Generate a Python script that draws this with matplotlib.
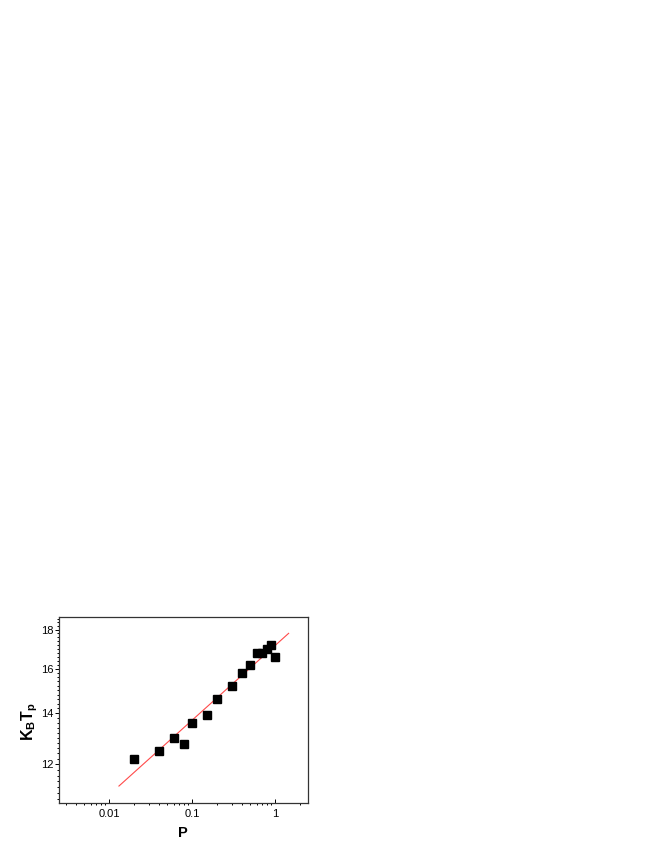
import numpy as np
import matplotlib.pyplot as plt
from matplotlib.ticker import FixedLocator, FixedFormatter, LogLocator, NullFormatter

plt.rcParams['font.family'] = ['Liberation Sans', 'DejaVu Sans']
plt.rcParams['mathtext.fontset'] = 'custom'
plt.rcParams['mathtext.rm'] = 'Liberation Sans'
plt.rcParams['mathtext.bf'] = 'Liberation Sans:bold'

# measured points
p_vals = [0.02, 0.04, 0.06, 0.08, 0.1, 0.15, 0.2, 0.3, 0.4, 0.5, 0.6, 0.7, 0.8, 0.9, 1.0]
kbtp = [12.2, 12.5, 13.0, 12.75, 13.6, 13.9, 14.6, 15.2, 15.8, 16.2, 16.8, 16.8, 17.0, 17.2, 16.6]

# fitted line end points
fit_p = [0.0131, 1.46]
fit_y = [11.24, 17.8]

x_ticks = [0.01, 0.1, 1]
x_ticklabels = ['0.01', '0.1', '1']
y_ticks = [12, 14, 16, 18]
y_minor = np.arange(10.8, 18.61, 0.2)

fig = plt.figure(figsize=(6.64, 8.6), dpi=100)
ax = fig.add_axes([0.0889, 0.0659, 0.3745, 0.2163])

ax.plot(fit_p, fit_y, color='#ff4a4a', lw=0.8, zorder=2)
ax.plot(p_vals, kbtp, 's', color='black', markersize=5.2, zorder=3)

ax.set_xscale('log')
ax.set_yscale('log')
ax.set_xlim(0.00248, 2.48)
ax.set_ylim(10.67, 18.68)

ax.xaxis.set_major_locator(FixedLocator(x_ticks))
ax.xaxis.set_major_formatter(FixedFormatter(x_ticklabels))
ax.xaxis.set_minor_locator(LogLocator(base=10, subs=np.arange(2, 10), numticks=20))
ax.xaxis.set_minor_formatter(NullFormatter())

ax.yaxis.set_major_locator(FixedLocator(y_ticks))
ax.yaxis.set_major_formatter(FixedFormatter([str(v) for v in y_ticks]))
ax.yaxis.set_minor_locator(FixedLocator(y_minor))
ax.yaxis.set_minor_formatter(NullFormatter())

ax.tick_params(which='both', top=False, right=False, labelsize=8, width=0.7)
ax.tick_params(axis='y', which='major', direction='out', length=3.2, pad=0.5)
ax.tick_params(axis='y', which='minor', direction='out', length=1.8)
ax.tick_params(axis='x', which='major', direction='in', length=3.2, pad=4)
ax.tick_params(axis='x', which='minor', direction='out', length=1.2)
for s in ax.spines.values():
    s.set_linewidth(0.9)
    s.set_color('#333333')

ax.set_xlabel('P', fontsize=10.5, fontweight='bold', labelpad=5)
ax.set_ylabel(r'$\mathbf{K_{B}T_{p}}$', fontsize=11.5)
ax.yaxis.set_label_coords(-0.078, 0.44)

fig.savefig('out.png', dpi=100)
